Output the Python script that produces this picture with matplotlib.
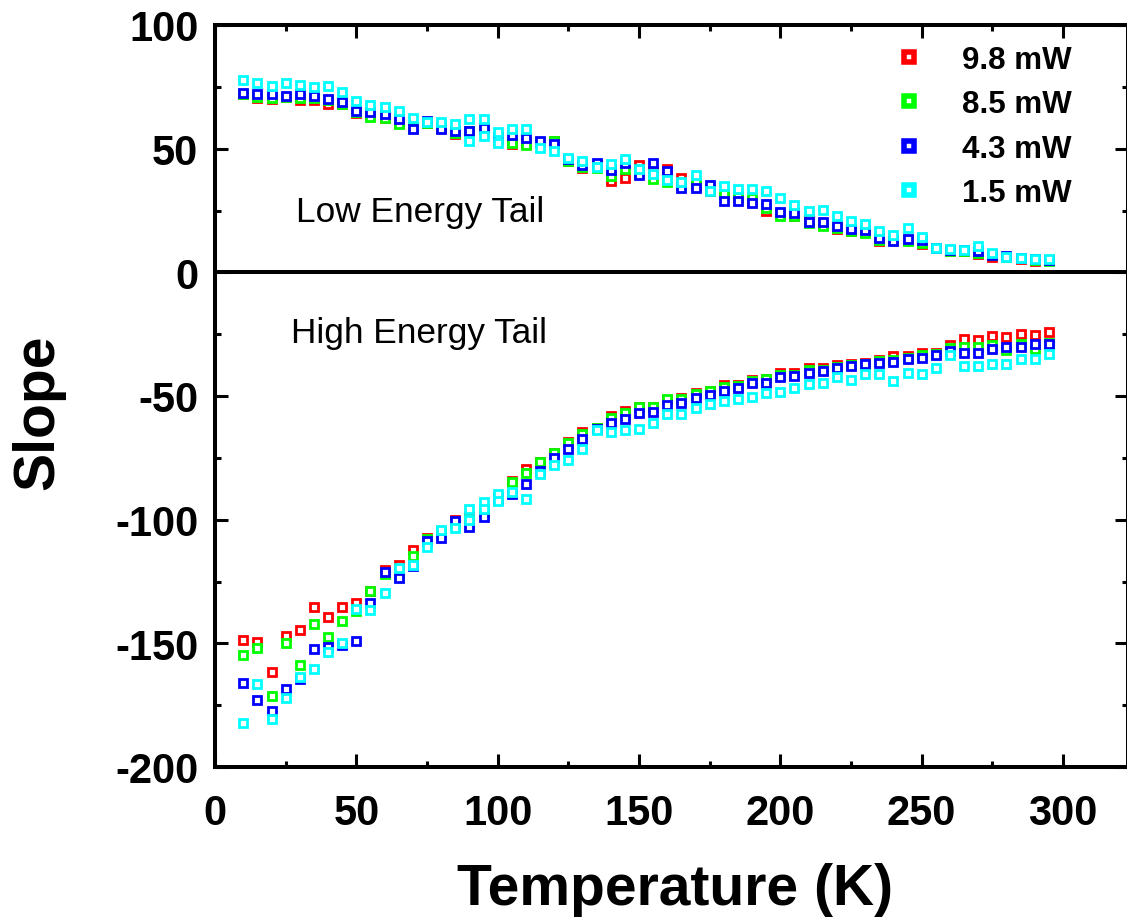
import numpy as np
import matplotlib
matplotlib.use("Agg")
import matplotlib.pyplot as plt
from matplotlib.lines import Line2D

plt.rcParams['font.family'] = ['Liberation Sans', 'DejaVu Sans']
plt.rcParams['axes.unicode_minus'] = False

# ---------------- data ----------------
temperature = list(range(10, 300, 5))  # 10 ... 295 K

labels = ["9.8 mW", "8.5 mW", "4.3 mW", "1.5 mW"]
colors = ["#ff0000", "#00ff00", "#0000ff", "#00ffff"]

low_98 = [72.0, 70.3, 70.0, 70.9, 69.8, 69.6, 67.9, 67.9, 64.6, 63.9,
          62.5, 60.5, 58.5, 60.3, 58.5, 56.1, 57.0, 58.0, 53.5, 51.8,
          52.4, 52.6, 53.1, 45.0, 42.3, 43.5, 36.9, 38.0, 43.3, 41.0,
          41.7, 38.3, 35.0, 33.0, 31.5, 30.5, 29.0, 24.8, 23.5, 22.8,
          21.5, 19.0, 17.4, 16.8, 16.2, 12.7, 12.9, 13.0, 11.5, 10.0,
          8.8, 8.7, 7.3, 6.3, 6.0, 5.5, 4.6, 4.8]
low_85 = [72.3, 70.9, 70.6, 70.9, 70.6, 70.3, 69.5, 68.2, 64.8, 62.8,
          62.3, 59.9, 58.5, 60.3, 59.2, 56.5, 57.2, 58.2, 53.8, 52.3,
          51.3, 52.8, 53.0, 45.0, 42.7, 42.3, 39.0, 41.7, 40.0, 37.6,
          36.5, 35.5, 36.5, 33.5, 31.5, 30.5, 30.0, 26.0, 22.8, 22.8,
          20.0, 18.7, 18.0, 16.7, 16.0, 13.2, 13.0, 12.7, 11.7, 10.0,
          8.6, 8.7, 8.0, 7.0, 6.3, 5.6, 5.0, 4.6]
low_43 = [72.7, 72.3, 72.0, 71.3, 72.3, 71.3, 70.2, 68.9, 65.2, 64.8,
          64.1, 61.9, 58.1, 61.2, 57.8, 57.2, 57.2, 58.5, 54.7, 55.4,
          54.5, 53.1, 52.0, 45.7, 43.5, 44.3, 41.2, 44.3, 39.2, 44.3,
          41.0, 34.2, 34.2, 35.2, 28.8, 28.8, 27.9, 27.5, 24.5, 24.1,
          20.5, 20.5, 18.7, 17.7, 17.1, 13.7, 12.7, 13.3, 13.0, 10.0,
          9.2, 8.9, 8.6, 7.0, 6.5, 5.9, 5.2, 5.0]
low_15 = [77.8, 76.4, 75.2, 76.6, 75.6, 74.9, 75.2, 73.1, 69.3, 67.6,
          67.0, 65.2, 62.3, 60.6, 60.6, 59.9, 62.0, 62.0, 56.6, 58.1,
          57.8, 50.4, 49.1, 46.4, 45.0, 42.7, 43.7, 46.0, 41.7, 39.6,
          37.3, 36.5, 39.2, 32.9, 34.9, 33.6, 33.6, 32.9, 30.2, 27.1,
          24.8, 25.2, 22.8, 20.8, 19.4, 16.7, 15.0, 18.1, 14.4, 10.0,
          9.6, 8.9, 10.6, 7.9, 6.3, 5.9, 5.5, 5.3]
# repeated 1.5 mW measurements
extra_T = [90, 95, 100]
low_15_extra = [52.9, 55.1, 52.2]

high_98 = [-148.8, -149.5, -161.5, -147.1, -144.6, -135.2, -139.4, -135.2, -133.6, -129.0,
           -120.4, -118.5, -112.3, -107.5, -105.0, -100.0, -99.0, -96.0, -91.5, -84.5,
           -79.7, -76.5, -73.0, -68.5, -64.6, -62.8, -58.1, -56.1, -54.5, -54.3,
           -51.5, -51.0, -48.7, -48.0, -45.7, -45.5, -43.5, -43.0, -40.6, -40.5,
           -38.5, -38.8, -37.5, -37.0, -36.5, -35.6, -33.8, -34.0, -32.5, -32.5,
           -29.4, -27.1, -27.4, -25.7, -26.1, -25.1, -25.3, -24.0]
high_85 = [-154.7, -152.0, -171.3, -150.0, -158.8, -142.1, -147.3, -141.0, -136.9, -128.9,
           -122.1, -123.0, -114.7, -107.7, -105.3, -101.8, -100.0, -97.0, -91.0, -84.8,
           -81.0, -76.7, -72.9, -68.9, -65.5, -63.0, -59.0, -57.0, -54.5, -54.5,
           -51.4, -51.1, -49.3, -48.0, -46.5, -46.0, -44.0, -43.0, -41.5, -41.5,
           -39.5, -39.5, -38.3, -37.5, -36.9, -36.0, -35.5, -34.5, -33.5, -33.0,
           -30.5, -30.0, -30.1, -29.5, -31.5, -29.0, -31.1, -28.5]
high_43 = [-166.2, -173.1, -177.4, -168.6, -164.6, -152.2, -151.4, -150.8, -149.1, -133.6,
           -121.2, -123.5, -118.8, -108.5, -107.3, -100.6, -102.8, -98.8, -91.5, -89.8,
           -85.5, -80.3, -74.9, -71.6, -67.3, -63.3, -60.8, -59.4, -57.0, -56.3,
           -53.6, -52.7, -50.7, -49.7, -48.0, -46.6, -44.9, -44.9, -42.3, -41.9,
           -40.6, -39.9, -38.5, -37.9, -37.2, -36.5, -36.1, -34.9, -34.8, -33.4,
           -31.8, -32.8, -32.5, -31.1, -30.2, -30.2, -28.8, -29.1]
high_15 = [-182.1, -166.3, -180.5, -172.0, -163.8, -160.5, -153.5, -150.0, -136.3, -136.7,
           -129.5, -119.4, -118.5, -110.9, -104.3, -103.2, -95.8, -92.9, -89.8, -88.7,
           -91.8, -81.7, -78.0, -76.0, -71.6, -63.8, -64.6, -63.8, -63.5, -60.8,
           -57.4, -57.2, -54.7, -53.4, -52.0, -51.4, -50.3, -48.9, -48.3, -46.9,
           -45.0, -44.9, -42.3, -43.5, -41.2, -41.0, -43.9, -40.6, -41.0, -38.8,
           -33.4, -37.9, -37.9, -36.9, -37.2, -34.9, -34.9, -33.2]
high_15_extra = [-100.1, -95.6, -92.5]

low_series = [low_98, low_85, low_43, low_15]
high_series = [high_98, high_85, high_43, high_15]

xticks = [0, 50, 100, 150, 200, 250, 300]
yticks = [-200, -150, -100, -50, 0, 50, 100]

# ---------------- figure ----------------
W, H = 1127, 920
fig = plt.figure(figsize=(W / 100, H / 100), dpi=100)
ax_left, ax_right, ax_top, ax_bot = 215, 1128, 26, 768
ax = fig.add_axes([ax_left / W, 1 - ax_bot / H, (ax_right - ax_left) / W, (ax_bot - ax_top) / H])

ms, mew = 5.9, 2.0
for i in range(4):
    ax.plot(temperature, low_series[i], ls='none', marker='s', ms=ms, mew=mew,
            mfc='white', mec=colors[i], zorder=3 + i)
    ax.plot(temperature, high_series[i], ls='none', marker='s', ms=ms, mew=mew,
            mfc='white', mec=colors[i], zorder=3 + i)
ax.plot(extra_T, low_15_extra, ls='none', marker='s', ms=ms, mew=mew,
        mfc='white', mec=colors[3], zorder=6)
ax.plot(extra_T, high_15_extra, ls='none', marker='s', ms=ms, mew=mew,
        mfc='white', mec=colors[3], zorder=6)

ax.axhline(0, color='black', lw=2.9, zorder=2)

ax.set_xlim(0, 323)
ax.set_ylim(-200, 100)
ax.set_xticks(xticks)
ax.set_yticks(yticks)
ax.set_xticks(np.arange(25, 325, 50), minor=True)
ax.set_yticks(np.arange(-175, 100, 50), minor=True)
ax.tick_params(which='both', direction='in', top=True, right=True, width=2.2)
ax.tick_params(which='major', length=9.5)
ax.tick_params(which='minor', length=4.5)
ax.tick_params(axis='x', which='major', pad=19, labelsize=30)
ax.tick_params(axis='y', which='major', pad=12, labelsize=30)
for lab in ax.get_xticklabels() + ax.get_yticklabels():
    lab.set_fontweight('bold')
for sp in ax.spines.values():
    sp.set_linewidth(2.9)

ax.text(28.8, 20.6, "Low Energy Tail", fontsize=25.4, ha='left', va='baseline')
ax.text(27.0, -28.3, "High Energy Tail", fontsize=25.4, ha='left', va='baseline')

fig.text(675 / W, 1 - 905 / H, "Temperature (K)", fontsize=41, fontweight='bold',
         ha='center', va='baseline')
fig.text(38 / W, 1 - 412 / H, "Slope", fontsize=41, fontweight='bold',
         ha='center', va='center', rotation=90)

handles = [Line2D([], [], ls='none', marker='s', ms=6.6, mew=4.0, mfc='white',
                  mec=c) for c in colors]
leg = ax.legend(handles, labels, loc='upper left',
                bbox_to_anchor=((893 - ax_left) / (ax_right - ax_left), 1 - (46 - ax_top) / (ax_bot - ax_top)),
                frameon=False, prop={'weight': 'bold', 'size': 22.5},
                handletextpad=1.22, labelspacing=0.46, handlelength=1.0,
                borderaxespad=0, borderpad=0)

fig.savefig("out.png", dpi=100)
